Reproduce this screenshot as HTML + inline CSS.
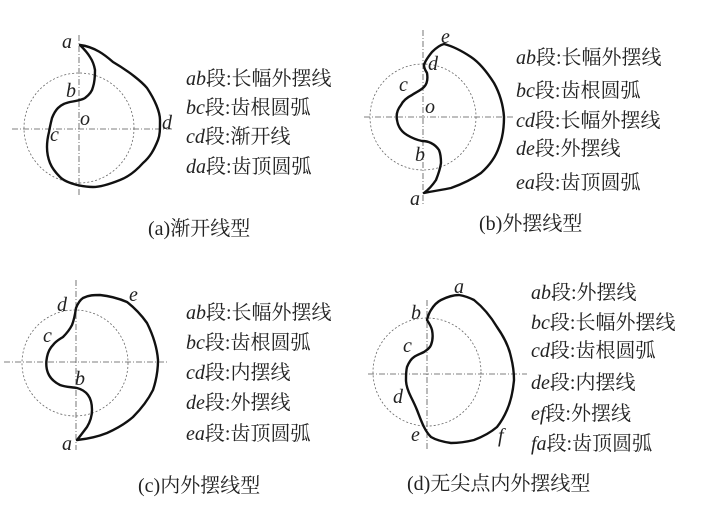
<!DOCTYPE html>
<html><head><meta charset="utf-8"><style>
html,body{margin:0;padding:0;background:#fff;}
svg{display:block;}
text{font-family:"Liberation Serif","Noto Serif CJK SC","Noto Sans CJK SC",serif;font-size:20px;fill:#222;}
.l{font-style:italic;font-family:"Liberation Serif",serif;}
.ax{stroke:#555;stroke-width:0.8;stroke-dasharray:6 2 1 2;fill:none;}
.ci{stroke:#666;stroke-width:0.8;stroke-dasharray:2 2;fill:none;}
.cv{stroke:#111;stroke-width:2.4;fill:none;stroke-linejoin:round;}
</style></head><body>
<svg width="728" height="505" viewBox="0 0 728 505">
<!-- (a) -->
<line class="ax" x1="79" y1="35" x2="79" y2="197"/>
<line class="ax" x1="12" y1="129" x2="172" y2="129"/>
<circle class="ci" cx="79" cy="128" r="55"/>
<path class="cv" d="M80,45 C95,47 105,55 113,62 C130,72 142,82 147,88 C155,100 160,112 160,120 C160,130 160,135 158,140 C154,150 150,157 143,163 C135,172 128,177 120,180 C110,184 100,187 93,187 C86,187 82,186 77,185 C70,183 64,181 60,177 C55,172 52,168 50,163 C48,158 47,152 47,147 C47,141 48,136 49,132 C50,126 51,122 52,118 C54,113 56,110 58,108 C62,104 66,103 70,102 C76,101 82,100 85,98 C89,95 92,92 93,87 C95,81 95,75 95,70 C94,64 92,60 90,57 C87,52 84,49 80,45 Z"/>
<text class="l" x="62" y="48">a</text>
<text class="l" x="66" y="97">b</text>
<text class="l" x="80" y="125">o</text>
<text class="l" x="50" y="141">c</text>
<text class="l" x="162" y="129">d</text>
<text x="186" y="85"><tspan class="l">ab</tspan>段:长幅外摆线</text>
<text x="186" y="114"><tspan class="l">bc</tspan>段:齿根圆弧</text>
<text x="186" y="143"><tspan class="l">cd</tspan>段:渐开线</text>
<text x="186" y="173"><tspan class="l">da</tspan>段:齿顶圆弧</text>
<text x="148" y="235">(a)渐开线型</text>

<!-- (b) -->
<line class="ax" x1="423" y1="30" x2="423" y2="204"/>
<line class="ax" x1="364" y1="117" x2="514" y2="117"/>
<circle class="ci" cx="423" cy="117" r="53"/>
<path class="cv" d="M424,193 C433,191 442,190 451,188 C465,183 474,178 481,173 C490,165 496,156 499,147 C503,137 504,127 504,117 C503,103 499,92 494,83 C487,72 480,63 471,57 C462,51 452,46 444,44 C440,45 435,49 432,52 C428,57 425,61 424,65 C424,69 426,71 427,73 C428,79 427,84 424,87 C420,91 416,92 412,95 C406,98 403,101 401,105 C397,110 396,115 397,120 C398,127 402,132 407,135 C412,138 417,140 422,141 C426,141 429,142 431,143 C435,145 437,147 439,150 C441,155 441,159 441,163 C440,170 438,175 436,180 C432,186 428,190 424,193 Z"/>
<text class="l" x="441" y="43">e</text>
<text class="l" x="428" y="70">d</text>
<text class="l" x="399" y="91">c</text>
<text class="l" x="425" y="113">o</text>
<text class="l" x="415" y="161">b</text>
<text class="l" x="410" y="205">a</text>
<text x="516" y="64"><tspan class="l">ab</tspan>段:长幅外摆线</text>
<text x="516" y="97"><tspan class="l">bc</tspan>段:齿根圆弧</text>
<text x="516" y="127"><tspan class="l">cd</tspan>段:长幅外摆线</text>
<text x="516" y="155"><tspan class="l">de</tspan>段:外摆线</text>
<text x="516" y="189"><tspan class="l">ea</tspan>段:齿顶圆弧</text>
<text x="479" y="230">(b)外摆线型</text>

<!-- (c) -->
<line class="ax" x1="76" y1="280" x2="76" y2="450"/>
<line class="ax" x1="4" y1="362" x2="168" y2="362"/>
<circle class="ci" cx="75" cy="363" r="53"/>
<path class="cv" d="M76,308 C78,303 80,300 83,298 C89,295 94,295 100,295 C110,296 120,299 127,302 C136,309 142,316 147,323 C153,335 157,347 158,360 C158,371 156,381 153,390 C148,400 141,409 133,417 C125,424 116,429 107,433 C97,437 87,439 77,440 C81,435 84,431 87,427 C90,422 92,416 92,410 C92,404 91,399 88,395 C85,391 81,389 77,388 C71,387 65,387 60,385 C54,382 50,378 48,373 C46,368 46,362 47,357 C48,352 50,348 53,345 C56,341 60,339 63,337 C67,333 70,329 72,325 C74,320 75,315 76,308 Z"/>
<text class="l" x="57" y="311">d</text>
<text class="l" x="129" y="301">e</text>
<text class="l" x="43" y="342">c</text>
<text class="l" x="75" y="385">b</text>
<text class="l" x="62" y="450">a</text>
<text x="186" y="319"><tspan class="l">ab</tspan>段:长幅外摆线</text>
<text x="186" y="349"><tspan class="l">bc</tspan>段:齿根圆弧</text>
<text x="186" y="379"><tspan class="l">cd</tspan>段:内摆线</text>
<text x="186" y="409"><tspan class="l">de</tspan>段:外摆线</text>
<text x="186" y="440"><tspan class="l">ea</tspan>段:齿顶圆弧</text>
<text x="138" y="492">(c)内外摆线型</text>

<!-- (d) -->
<line class="ax" x1="427" y1="300" x2="427" y2="450"/>
<line class="ax" x1="368" y1="374" x2="527" y2="374"/>
<circle class="ci" cx="427" cy="372" r="54"/>
<path class="cv" d="M427,320 C428,316 429,313 431,310 C434,305 437,302 441,300 C447,297 453,295 459,295 C465,296 470,298 474,300 C484,308 491,317 497,327 C504,337 509,347 511,357 C513,365 514,372 514,380 C513,391 511,401 507,410 C504,417 501,422 497,427 C490,433 482,437 474,440 C466,442 458,443 451,443 C444,442 436,440 431,437 C428,434 426,431 424,427 C421,421 419,415 417,410 C415,405 413,401 411,397 C408,391 406,386 406,380 C406,375 406,371 407,367 C409,362 411,359 414,357 C417,355 420,354 424,352 C427,350 430,348 431,345 C433,340 433,335 432,330 C431,326 429,323 427,320 Z"/>
<text class="l" x="454" y="293">a</text>
<text class="l" x="411" y="319">b</text>
<text class="l" x="403" y="352">c</text>
<text class="l" x="393" y="403">d</text>
<text class="l" x="411" y="441">e</text>
<text class="l" x="498" y="442">f</text>
<text x="531" y="299"><tspan class="l">ab</tspan>段:外摆线</text>
<text x="531" y="329"><tspan class="l">bc</tspan>段:长幅外摆线</text>
<text x="531" y="357"><tspan class="l">cd</tspan>段:齿根圆弧</text>
<text x="531" y="389"><tspan class="l">de</tspan>段:内摆线</text>
<text x="531" y="420"><tspan class="l">ef</tspan>段:外摆线</text>
<text x="531" y="450"><tspan class="l">fa</tspan>段:齿顶圆弧</text>
<text x="407" y="490">(d)无尖点内外摆线型</text>
</svg>
</body></html>
